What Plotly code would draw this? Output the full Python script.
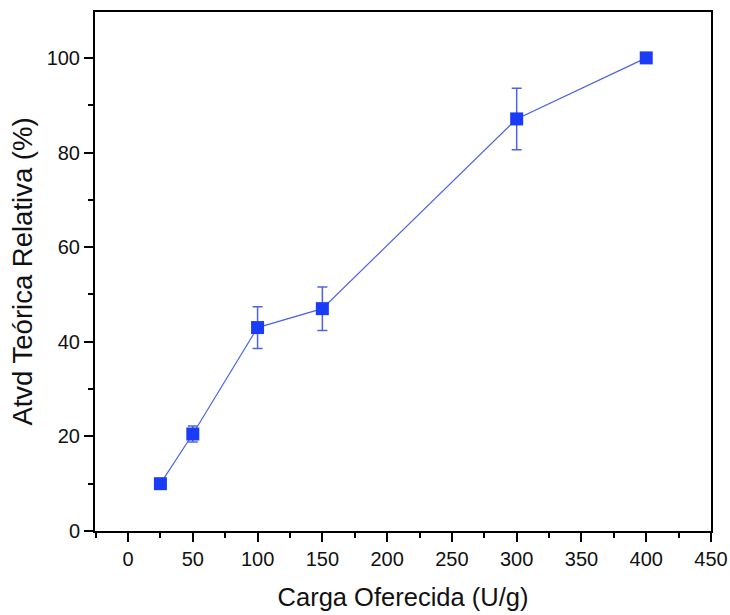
import plotly.graph_objects as go

carga = [25, 50, 100, 150, 300, 400]
atividade = [10.0, 20.5, 43.0, 47.0, 87.1, 100.0]
erro = [0.0, 1.7, 4.4, 4.6, 6.5, 0.0]

x_ticks = [0, 50, 100, 150, 200, 250, 300, 350, 400, 450]
y_ticks = [0, 20, 40, 60, 80, 100]

FONT = "Liberation Sans, Arial"

fig = go.Figure()
fig.add_trace(go.Scatter(
    x=carga, y=atividade,
    mode="lines+markers",
    line=dict(color="#4d63e6", width=1.2),
    marker=dict(symbol="square", size=13, color="#1a3cf7", line=dict(width=0)),
    error_y=dict(type="data", array=erro, visible=True, color="#4d63e6",
                 thickness=1.5, width=5),
    showlegend=False,
))

axis_common = dict(
    showline=True, linecolor="black", linewidth=2, mirror=True,
    ticks="outside", ticklen=9, tickwidth=2, tickcolor="black",
    showgrid=False, zeroline=False,
    tickfont=dict(family=FONT, size=20, color="#111"),
)

fig.update_xaxes(
    range=[-25.5, 450], tickvals=x_ticks,
    minor=dict(ticks="outside", ticklen=5, tickwidth=2, tickcolor="black", dtick=25, tick0=0),
    title=dict(text="Carga Oferecida (U/g)", font=dict(family=FONT, size=25.5, color="#111"), standoff=19),
    **axis_common,
)
fig.update_yaxes(
    range=[0, 109.7], tickvals=y_ticks,
    minor=dict(ticks="outside", ticklen=5, tickwidth=2, tickcolor="black", dtick=10, tick0=0),
    title=dict(text="Atvd Teórica Relativa (%)", font=dict(family=FONT, size=27.5, color="#111"), standoff=6),
    **axis_common,
)

fig.update_layout(
    width=730, height=615,
    margin=dict(l=95, r=19, t=12, b=84, autoexpand=False),
    paper_bgcolor="white", plot_bgcolor="white",
)

fig.write_html("out.html")
